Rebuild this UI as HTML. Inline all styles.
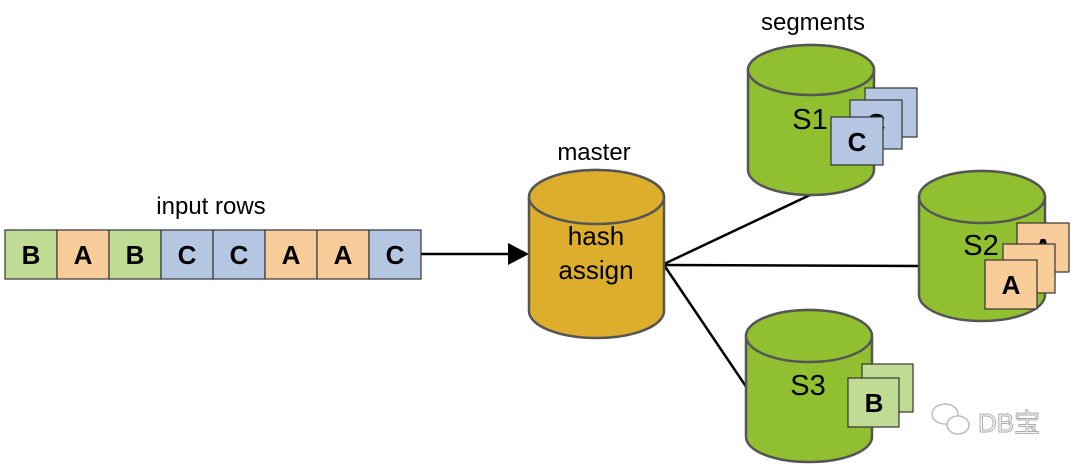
<!DOCTYPE html>
<html><head><style>html,body{margin:0;padding:0;background:#fff}</style></head><body>
<svg width="1072" height="466" viewBox="0 0 1072 466" xmlns="http://www.w3.org/2000/svg" font-family="Liberation Sans, Arial, sans-serif">
<g stroke="#000" stroke-width="2.5" fill="none">
<line x1="420" y1="254" x2="510" y2="254"/>
<line x1="664" y1="264" x2="810" y2="195"/>
<line x1="664" y1="265" x2="920" y2="266"/>
<line x1="664" y1="265" x2="747" y2="388"/>
</g>
<polygon points="508,243 529,254 508,265" fill="#000"/>
<g stroke="#333" stroke-width="1.2">
<rect x="5" y="230" width="52" height="49" fill="#c0dc94"/>
<rect x="57" y="230" width="52" height="49" fill="#f8cc98"/>
<rect x="109" y="230" width="52" height="49" fill="#c0dc94"/>
<rect x="161" y="230" width="52" height="49" fill="#b4c6e2"/>
<rect x="213" y="230" width="52" height="49" fill="#b4c6e2"/>
<rect x="265" y="230" width="52" height="49" fill="#f8cc98"/>
<rect x="317" y="230" width="52" height="49" fill="#f8cc98"/>
<rect x="369" y="230" width="52" height="49" fill="#b4c6e2"/>
</g>
<g font-weight="bold" font-size="26" text-anchor="middle" fill="#000">
<text x="31" y="264">B</text><text x="83" y="264">A</text><text x="135" y="264">B</text><text x="187" y="264">C</text><text x="239" y="264">C</text><text x="291" y="264">A</text><text x="343" y="264">A</text><text x="395" y="264">C</text>
</g>
<g font-size="24" text-anchor="middle" fill="#000">
<text x="211" y="214">input rows</text>
<text x="594" y="160">master</text>
<text x="813" y="30">segments</text>
</g>
<g stroke="#555" stroke-width="2.5">
<path d="M529,197 A67.5,27 0 0 1 664,197 V311 A67.5,27 0 0 1 529,311 Z" fill="#dcae2c"/>
<ellipse cx="596.5" cy="197" rx="67.5" ry="27" fill="#dcae2c"/>
</g>
<g font-size="26" text-anchor="middle" fill="#000">
<text x="596" y="245">hash</text><text x="596" y="279">assign</text>
</g>
<g stroke="#555" stroke-width="2.5" fill="#90c030">
<path d="M748,70 A63,25 0 0 1 874,70 V170 A63,25 0 0 1 748,170 Z"/>
<ellipse cx="811" cy="70" rx="63" ry="25"/>
<path d="M919,197 A63,26 0 0 1 1045,197 V295 A63,26 0 0 1 919,295 Z"/>
<ellipse cx="982" cy="197" rx="63" ry="26"/>
<path d="M746,336 A63,26 0 0 1 872,336 V437 A63,25 0 0 1 746,437 Z"/>
<ellipse cx="809" cy="336" rx="63" ry="26"/>
</g>
<g font-size="29" fill="#000" text-anchor="middle">
<text x="810" y="129">S1</text><text x="981" y="255">S2</text><text x="808" y="395">S3</text>
</g>
<g font-weight="bold" font-size="26" text-anchor="middle" fill="#000">
<rect x="865" y="88" width="52" height="49" fill="#b4c6e2" stroke="#333" stroke-width="1.2"/>
<rect x="850" y="100" width="52" height="49" fill="#b4c6e2" stroke="#333" stroke-width="1.2"/>
<text x="876" y="132">C</text>
<rect x="831" y="117" width="52" height="48" fill="#b4c6e2" stroke="#333" stroke-width="1.2"/>
<text x="857" y="151">C</text>
<rect x="1017" y="223" width="52" height="49" fill="#f8cc98" stroke="#333" stroke-width="1.2"/>
<text x="1043" y="257">A</text>
<rect x="1003" y="244" width="52" height="49" fill="#f8cc98" stroke="#333" stroke-width="1.2"/>
<text x="1029" y="278">A</text>
<rect x="985" y="260" width="52" height="49" fill="#f8cc98" stroke="#333" stroke-width="1.2"/>
<text x="1011" y="294">A</text>
<rect x="862" y="364" width="51" height="48" fill="#c0dc94" stroke="#333" stroke-width="1.2"/>
<text x="888" y="398">B</text>
<rect x="848" y="378" width="51" height="49" fill="#c0dc94" stroke="#333" stroke-width="1.2"/>
<text x="874" y="412">B</text>
</g>
<g fill="none" stroke="#bbb" stroke-width="1.5">
<ellipse cx="945" cy="414" rx="13" ry="10"/>
<ellipse cx="958" cy="425" rx="11" ry="9" fill="#fff"/>
</g>
<text x="978" y="432" font-size="26" fill="#fff" stroke="#aaa" stroke-width="1" font-family="Liberation Sans, Noto Sans CJK SC, sans-serif">DB宝</text>
</svg>
</body></html>
